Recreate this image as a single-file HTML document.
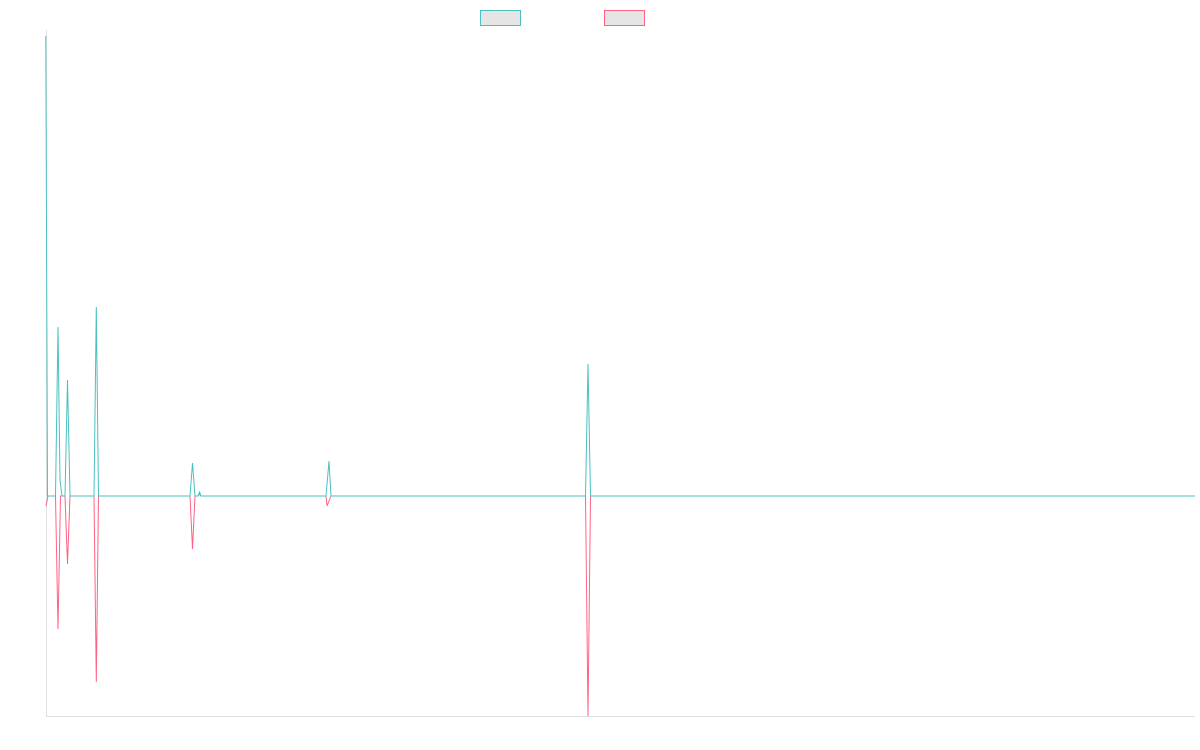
<!DOCTYPE html>
<html><head><meta charset="utf-8"><style>body{margin:0;background:#fff}svg{display:block}</style></head><body>
<svg width="1200" height="750" viewBox="0 0 1200 750">
<line x1="46.5" y1="30" x2="46.5" y2="716" stroke="#e0e0e0" stroke-width="1"/>
<line x1="46" y1="716.5" x2="1195" y2="716.5" stroke="#e0e0e0" stroke-width="1"/>
<rect x="480.5" y="10.5" width="40" height="15" fill="#e5e5e5" stroke="#4bc0c0" stroke-width="1"/>
<rect x="604.5" y="10.5" width="40" height="15" fill="#e5e5e5" stroke="#ff6384" stroke-width="1"/>
<polyline fill="none" stroke="#ff6384" stroke-width="1" points="46,506 48,496 55.5,496 58,629 60.5,496 65,496 67.5,564 70,496 94,496 96.3,682 98.5,496 190,496 192.5,549 195,496 198,496 199.5,494 201,496 326,496 327,506 331,496 585.5,496 588,716 590.5,496 1195,496"/>
<polyline fill="none" stroke="#4bc0c0" stroke-width="1" points="45.8,36 47.5,496 55.5,496 58,327 60,480 62,496 65,496 67.5,380 70,496 94,496 96.3,307 98.5,496 190,496 192.5,463 195,496 198,496 199.5,492 201,496 326,496 329,461 331,496 585.5,496 588,364 590.5,496 1195,496"/>
</svg>
</body></html>
